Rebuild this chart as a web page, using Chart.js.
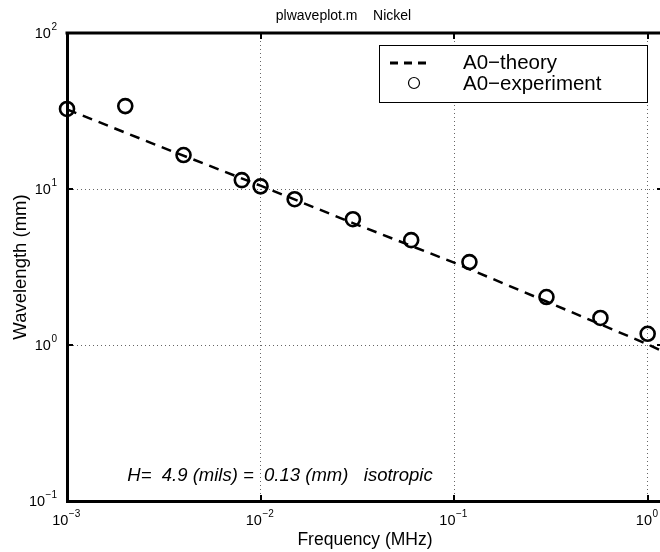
<!DOCTYPE html>
<html><head><meta charset="utf-8">
<script src="https://cdn.jsdelivr.net/npm/chart.js@4.4.0/dist/chart.umd.min.js"></script>
<style>
html,body{margin:0;padding:0;background:#fff;overflow:hidden;}
#wrap{width:660px;height:552px;overflow:hidden;position:relative;background:#fff;}
</style></head><body>
<div id="wrap"><canvas id="c" width="680" height="552"></canvas></div>
<script>
const titleText = 'plwaveplot.m    Nickel';
const xAxisTitle = 'Frequency (MHz)';
const yAxisTitle = 'Wavelength (mm)';
const seriesNames = ['A0\u2212theory', 'A0\u2212experiment'];
const theoryFreq   = [0.001, 0.003, 0.01, 0.03, 0.1, 0.3, 1.0, 1.15];
const theoryLambda = [32.4, 18.8, 10.5, 6.05, 3.37, 1.9, 1.01, 0.93];
const expFreq   = [0.001, 0.002, 0.004, 0.008, 0.01, 0.015, 0.03, 0.06, 0.12, 0.3, 0.57, 1.0];
const expLambda = [32.6, 34.0, 16.5, 11.4, 10.4, 8.6, 6.4, 4.7, 3.4, 2.03, 1.49, 1.18];
const xTickValues = [0.001, 0.01, 0.1, 1];
const xTickExponents = ['\u22123', '\u22122', '\u22121', '0'];
const yTickValues = [0.1, 1, 10, 100];
const yTickExponents = ['\u22121', '0', '1', '2'];
const noteText = 'H=  4.9 (mils) =  0.13 (mm)   isotropic';
const notePos = [0.00205, 0.145];

const FONT = '"Liberation Sans", Arial, Helvetica, sans-serif';

const decor = {
  id: 'decor',
  beforeDatasetsDraw(chart) {
    const {ctx, chartArea: a, scales: {x, y}} = chart;
    ctx.save();
    ctx.strokeStyle = '#000';
    ctx.lineWidth = 3;
    ctx.beginPath();
    ctx.moveTo(a.left - 1.5, a.top);
    ctx.lineTo(a.right + 1.5, a.top);
    ctx.moveTo(a.right, a.top);
    ctx.lineTo(a.right, a.bottom);
    ctx.stroke();
    ctx.lineWidth = 2;
    ctx.beginPath();
    xTickValues.forEach(v => {
      const px = Math.round(x.getPixelForValue(v));
      ctx.moveTo(px, a.bottom); ctx.lineTo(px, a.bottom - 6);
      ctx.moveTo(px, a.top); ctx.lineTo(px, a.top + 6);
    });
    yTickValues.forEach(v => {
      const py = Math.round(y.getPixelForValue(v));
      ctx.moveTo(a.left, py); ctx.lineTo(a.left + 6, py);
      ctx.moveTo(a.right, py); ctx.lineTo(a.right - 6, py);
    });
    ctx.stroke();
    ctx.restore();
  },
  afterDraw(chart) {
    const {ctx, chartArea: a, scales: {x, y}} = chart;
    ctx.save();
    ctx.fillStyle = '#000';
    ctx.textBaseline = 'middle';
    const big = '14.5px ' + FONT, small = '10px ' + FONT;
    xTickValues.forEach((v, i) => {
      const px = x.getPixelForValue(v);
      ctx.font = big; const w1 = ctx.measureText('10').width;
      ctx.font = small; const w2 = ctx.measureText(xTickExponents[i]).width;
      const start = px - (w1 + w2) / 2 - 1;
      ctx.font = big; ctx.textAlign = 'left';
      ctx.fillText('10', start, a.bottom + 20);
      ctx.font = small;
      ctx.fillText(xTickExponents[i], start + w1 + 0.5, a.bottom + 13);
    });
    yTickValues.forEach((v, i) => {
      const py = y.getPixelForValue(v);
      ctx.font = small; const w2 = ctx.measureText(yTickExponents[i]).width;
      ctx.textAlign = 'right';
      ctx.fillText(yTickExponents[i], a.left - 10, py - 6);
      ctx.font = big;
      ctx.fillText('10', a.left - 10 - w2 - 0.5, py + 1);
    });
    ctx.font = 'italic 18.5px ' + FONT;
    ctx.textAlign = 'left';
    ctx.fillText(noteText, x.getPixelForValue(notePos[0]), y.getPixelForValue(notePos[1]));
    const lw = 268, lh = 57;
    const lx = a.right - 16 - lw, ly = a.top + 12;
    ctx.fillStyle = '#fff';
    ctx.fillRect(lx, ly, lw, lh);
    ctx.strokeStyle = '#000';
    ctx.lineWidth = 1;
    ctx.strokeRect(Math.round(lx) + 0.5, Math.round(ly) + 0.5, lw, lh);
    const r1 = ly + 18, r2 = ly + 38;
    ctx.lineWidth = 2.8;
    ctx.setLineDash([8, 6]);
    ctx.beginPath(); ctx.moveTo(lx + 11, r1); ctx.lineTo(lx + 53, r1); ctx.stroke();
    ctx.setLineDash([]);
    ctx.lineWidth = 1.2;
    ctx.beginPath(); ctx.arc(lx + 35, r2, 5.5, 0, Math.PI * 2); ctx.stroke();
    ctx.fillStyle = '#000';
    ctx.font = '20.5px ' + FONT;
    ctx.fillText(seriesNames[0], lx + 84, r1);
    ctx.fillText(seriesNames[1], lx + 84, r2 + 1);
    ctx.restore();
  }
};

new Chart(document.getElementById('c'), {
  type: 'scatter',
  data: {
    datasets: [
      {
        label: seriesNames[0],
        data: theoryFreq.map((f, i) => ({x: f, y: theoryLambda[i]})),
        showLine: true,
        borderColor: '#000',
        borderWidth: 2.5,
        borderDash: [10, 7],
        pointRadius: 0,
        fill: false,
        tension: 0
      },
      {
        label: seriesNames[1],
        data: expFreq.map((f, i) => ({x: f, y: expLambda[i]})),
        showLine: false,
        pointRadius: 7,
        pointBorderWidth: 2.6,
        pointBorderColor: '#000',
        pointBackgroundColor: 'rgba(0,0,0,0)',
        clip: false
      }
    ]
  },
  options: {
    responsive: false,
    animation: false,
    devicePixelRatio: 1,
    layout: {padding: {left: 24, right: 17, top: 0, bottom: 0}},
    plugins: {
      legend: {display: false},
      tooltip: {enabled: false},
      title: {
        display: true, text: titleText, color: '#000',
        font: {family: FONT, size: 14, weight: 'normal', lineHeight: 1.2},
        padding: {top: 8, bottom: 8.2}
      }
    },
    scales: {
      x: {
        type: 'logarithmic', position: 'bottom', min: 0.001, max: 1.2,
        afterBuildTicks: s => { s.ticks = xTickValues.map(v => ({value: v})); },
        afterFit: s => { s.height = 51; },
        grid: {color: '#666', lineWidth: 1, drawTicks: false},
        border: {display: true, color: '#000', width: 3, dash: [1, 3]},
        ticks: {display: false},
        title: {display: true, text: xAxisTitle, color: '#000',
          font: {family: FONT, size: 17.5, lineHeight: 1.2}, padding: {top: 4, bottom: 1.5}}
      },
      y: {
        type: 'logarithmic', position: 'left', min: 0.1, max: 100,
        afterBuildTicks: s => { s.ticks = yTickValues.map(v => ({value: v})); },
        afterFit: s => { s.width = 43; },
        grid: {color: '#666', lineWidth: 1, drawTicks: false},
        border: {display: true, color: '#000', width: 3, dash: [1, 3]},
        ticks: {display: false},
        title: {display: true, text: yAxisTitle, color: '#000',
          font: {family: FONT, size: 18.5, lineHeight: 1.2}, padding: {top: -14, bottom: 0}}
      }
    }
  },
  plugins: [decor]
});
</script>
</body></html>
